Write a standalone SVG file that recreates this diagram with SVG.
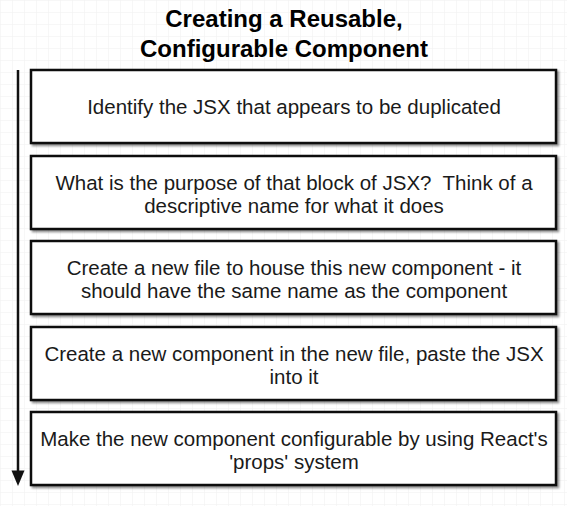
<svg xmlns="http://www.w3.org/2000/svg" width="567" height="506" viewBox="0 0 567 506">
<defs>
<pattern id="grid" width="12" height="12" patternUnits="userSpaceOnUse">
<path d="M12 0H0V12" fill="none" stroke="#f0f0f0" stroke-width="1"/>
</pattern>
<filter id="sh" x="-5%" y="-10%" width="115%" height="130%">
<feOffset dx="2" dy="2" in="SourceAlpha" result="o"/>
<feGaussianBlur in="o" stdDeviation="1" result="b"/>
<feComponentTransfer in="b" result="c"><feFuncA type="linear" slope="0.45"/></feComponentTransfer>
<feMerge><feMergeNode in="c"/><feMergeNode in="SourceGraphic"/></feMerge>
</filter>
</defs>
<style>
.box{fill:#fff;stroke:#111;stroke-width:2.5;filter:url(#sh)}
.t{font-family:"Liberation Sans",Arial,sans-serif;font-size:20.5px;fill:#1a1a1a;text-anchor:middle;white-space:pre}
.title{font-family:"Liberation Sans",Arial,sans-serif;font-size:24px;font-weight:bold;fill:#000;text-anchor:middle}
</style>
<rect width="567" height="506" fill="#fff"/>
<rect width="567" height="506" fill="url(#grid)"/>
<g id="title">
<text class="title" x="284" y="27">Creating a Reusable,</text>
<text class="title" x="284" y="57">Configurable Component</text>
</g>
<g id="connectors">
<line x1="18" y1="70" x2="18" y2="471" stroke="#111" stroke-width="2.5"/>
<path d="M11.5 470.5L18 486L24.5 470.5Z" fill="#111"/>
</g>
<g id="step1">
<rect class="box" x="31" y="70" width="525" height="73"/>
<text class="t" x="294" y="114">Identify the JSX that appears to be duplicated</text>
</g>
<g id="step2">
<rect class="box" x="31" y="156" width="525" height="73"/>
<text class="t" x="294" y="190" xml:space="preserve">What is the purpose of that block of JSX?  Think of a</text>
<text class="t" x="294" y="213">descriptive name for what it does</text>
</g>
<g id="step3">
<rect class="box" x="31" y="241" width="525" height="73"/>
<text class="t" x="294" y="275">Create a new file to house this new component - it</text>
<text class="t" x="294" y="298">should have the same name as the component</text>
</g>
<g id="step4">
<rect class="box" x="31" y="327" width="525" height="73"/>
<text class="t" x="294" y="361">Create a new component in the new file, paste the JSX</text>
<text class="t" x="294" y="384">into it</text>
</g>
<g id="step5">
<rect class="box" x="31" y="412" width="525" height="73"/>
<text class="t" x="294" y="446">Make the new component configurable by using React's</text>
<text class="t" x="294" y="469">'props' system</text>
</g>
</svg>
